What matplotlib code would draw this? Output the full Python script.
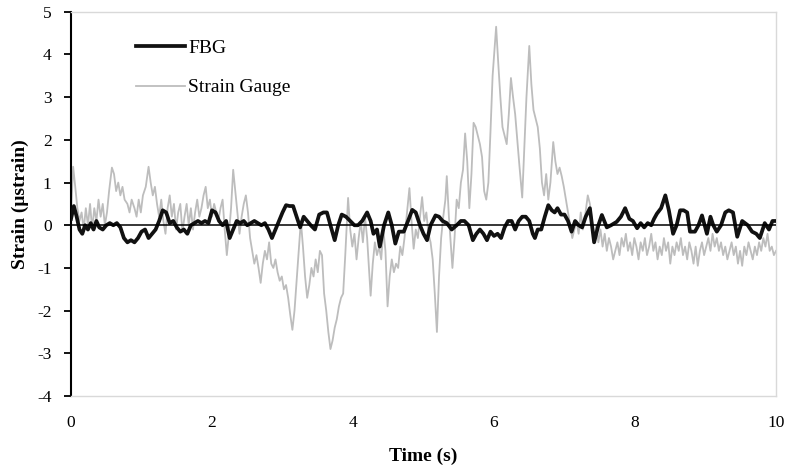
import matplotlib
matplotlib.use('Agg')
import matplotlib.pyplot as plt

# Strain gauge (grey) and FBG (black) traces.

sg_t = [0.00, 0.03, 0.06, 0.09, 0.12, 0.15, 0.18, 0.21, 0.24, 0.27, 0.30, 0.33, 0.36, 0.39,
        0.42, 0.45, 0.48, 0.51, 0.54, 0.58, 0.61, 0.64, 0.67, 0.70, 0.73, 0.76, 0.80, 0.83,
        0.86, 0.90, 0.93, 0.96, 0.99, 1.02, 1.06, 1.10, 1.13, 1.16, 1.19, 1.22, 1.25, 1.28,
        1.31, 1.34, 1.37, 1.40, 1.43, 1.46, 1.49, 1.52, 1.55, 1.58, 1.61, 1.64, 1.67, 1.70,
        1.73, 1.76, 1.79, 1.82, 1.85, 1.88, 1.91, 1.94, 1.97, 2.00, 2.03, 2.06, 2.09, 2.12,
        2.15, 2.18, 2.21, 2.24, 2.27, 2.30, 2.33, 2.36, 2.39, 2.42, 2.45, 2.48, 2.51, 2.54,
        2.57, 2.60, 2.63, 2.66, 2.69, 2.72, 2.75, 2.78, 2.81, 2.84, 2.87, 2.90, 2.93, 2.96,
        2.99, 3.02, 3.05, 3.08, 3.11, 3.14, 3.17, 3.20, 3.23, 3.26, 3.29, 3.32, 3.35, 3.38,
        3.41, 3.44, 3.47, 3.50, 3.53, 3.56, 3.59, 3.62, 3.65, 3.68, 3.71, 3.74, 3.77, 3.80,
        3.83, 3.86, 3.89, 3.93, 3.96, 3.99, 4.02, 4.05, 4.08, 4.11, 4.14, 4.17, 4.20, 4.23,
        4.25, 4.28, 4.31, 4.34, 4.37, 4.40, 4.43, 4.46, 4.49, 4.52, 4.55, 4.58, 4.61, 4.64,
        4.67, 4.70, 4.73, 4.76, 4.80, 4.83, 4.86, 4.89, 4.92, 4.95, 4.98, 5.01, 5.04, 5.07,
        5.10, 5.13, 5.16, 5.19, 5.22, 5.25, 5.28, 5.31, 5.33, 5.36, 5.39, 5.41, 5.44, 5.47,
        5.50, 5.53, 5.56, 5.59, 5.62, 5.65, 5.68, 5.71, 5.74, 5.77, 5.80, 5.83, 5.86, 5.89,
        5.92, 5.95, 5.98, 6.03, 6.06, 6.09, 6.12, 6.15, 6.18, 6.21, 6.24, 6.27, 6.30, 6.33,
        6.36, 6.40, 6.43, 6.46, 6.50, 6.53, 6.56, 6.59, 6.62, 6.65, 6.68, 6.71, 6.74, 6.77,
        6.80, 6.84, 6.87, 6.90, 6.93, 6.96, 6.99, 7.02, 7.05, 7.08, 7.11, 7.14, 7.17, 7.20,
        7.23, 7.26, 7.29, 7.33, 7.36, 7.39, 7.42, 7.45, 7.48, 7.51, 7.54, 7.57, 7.60, 7.63,
        7.66, 7.69, 7.72, 7.75, 7.78, 7.81, 7.84, 7.87, 7.90, 7.93, 7.96, 7.99, 8.02, 8.05,
        8.08, 8.11, 8.14, 8.17, 8.20, 8.23, 8.26, 8.29, 8.32, 8.35, 8.38, 8.41, 8.44, 8.47,
        8.50, 8.53, 8.56, 8.59, 8.62, 8.65, 8.68, 8.71, 8.74, 8.77, 8.80, 8.83, 8.86, 8.89,
        8.92, 8.95, 8.98, 9.01, 9.04, 9.07, 9.10, 9.13, 9.16, 9.19, 9.22, 9.25, 9.28, 9.31,
        9.34, 9.37, 9.40, 9.43, 9.46, 9.49, 9.52, 9.55, 9.58, 9.61, 9.64, 9.67, 9.70, 9.73,
        9.76, 9.79, 9.82, 9.85, 9.88, 9.91, 9.94, 9.97, 10.00]
sg_v = [0.3, 1.37, 0.9, 0.4, 0.1, 0.3, -0.1, 0.4, 0.0, 0.5, -0.1, 0.4, 0.1, 0.6,
        0.2, 0.5, 0.0, 0.3, 0.8, 1.35, 1.2, 0.8, 1.0, 0.7, 0.9, 0.6, 0.5, 0.3,
        0.6, 0.4, 0.2, 0.6, 0.3, 0.7, 0.9, 1.37, 1.0, 0.7, 0.9, 0.5, 0.2, 0.6,
        0.1, -0.2, 0.4, 0.7, 0.2, 0.5, -0.1, 0.3, 0.5, -0.15, 0.2, 0.5, 0.0, 0.4,
        -0.1, 0.3, 0.6, 0.2, 0.4, 0.7, 0.9, 0.4, 0.6, 0.2, 0.5, 0.3, 0.1, 0.4,
        0.6, -0.1, -0.7, -0.2, 0.4, 1.3, 0.8, 0.3, -0.2, 0.2, 0.5, 0.7, 0.3, -0.3,
        -0.6, -0.9, -0.7, -1.0, -1.35, -0.9, -0.6, -0.8, -0.4, -0.9, -1.0, -0.8, -1.1, -1.3,
        -1.2, -1.5, -1.4, -1.7, -2.1, -2.45, -2.0, -1.3, -0.6, 0.1, -0.5, -1.2, -1.7, -1.4,
        -1.0, -1.2, -0.8, -1.1, -0.6, -0.7, -1.6, -2.0, -2.5, -2.9, -2.7, -2.4, -2.2, -1.9,
        -1.7, -1.6, -0.7, 0.64, -0.1, -0.5, -0.2, -0.8, -0.3, 0.1, -0.4, 0.2, -0.3, -1.1,
        -1.65, -0.9, -0.4, -0.7, -0.5, -0.8, -0.1, -0.6, -1.9, -1.2, -0.8, -1.1, -0.9, -1.0,
        -0.5, -0.7, -0.3, 0.2, 0.87, 0.1, -0.55, -0.1, -0.3, 0.2, 0.66, 0.1, 0.3, -0.2,
        -0.4, -0.8, -1.6, -2.5, -1.2, -0.3, 0.2, 0.6, 1.15, 0.2, -0.5, -1.0, -0.3, 0.6,
        0.4, 1.0, 1.3, 2.15, 1.5, 0.4, 1.2, 2.4, 2.3, 2.1, 1.9, 1.6, 0.8, 0.6,
        1.0, 2.2, 3.5, 4.65, 3.8, 3.0, 2.3, 2.1, 1.9, 2.6, 3.45, 3.0, 2.6, 2.0,
        1.4, 0.65, 1.8, 3.0, 4.2, 3.3, 2.7, 2.5, 2.3, 1.8, 1.0, 0.7, 1.2, 0.6,
        1.0, 1.95, 1.5, 1.2, 1.35, 1.15, 0.9, 0.6, 0.3, 0.0, -0.3, -0.1, 0.1, -0.2,
        0.3, -0.1, 0.2, 0.7, 0.5, 0.1, -0.3, 0.0, -0.4, -0.1, -0.5, -0.2, -0.6, -0.3,
        -0.5, -0.8, -0.6, -0.4, -0.7, -0.3, -0.5, -0.2, -0.6, -0.4, -0.7, -0.3, -0.5, -0.8,
        -0.4, -0.6, -0.3, -0.7, -0.5, -0.2, -0.6, -0.4, -0.8, -0.5, -0.7, -0.3, -0.6, -0.4,
        -0.9, -0.5, -0.7, -0.4, -0.6, -0.3, -0.7, -0.5, -0.8, -0.4, -0.6, -0.9, -0.5, -0.95,
        -0.6, -0.4, -0.7, -0.5, -0.3, -0.6, -0.2, -0.5, -0.3, -0.6, -0.4, -0.7, -0.5, -0.8,
        -0.6, -0.4, -0.7, -0.5, -0.9, -0.6, -0.95, -0.5, -0.7, -0.4, -0.6, -0.8, -0.5, -0.7,
        -0.4, -0.6, -0.3, -0.5, -0.2, -0.6, -0.5, -0.7, -0.6]

fbg_t = [0.00, 0.04, 0.08, 0.12, 0.16, 0.20, 0.24, 0.28, 0.32, 0.36, 0.40, 0.45, 0.50, 0.55,
         0.60, 0.65, 0.70, 0.75, 0.80, 0.85, 0.90, 0.95, 1.00, 1.05, 1.10, 1.15, 1.20, 1.25,
         1.30, 1.35, 1.40, 1.45, 1.50, 1.55, 1.60, 1.65, 1.70, 1.75, 1.80, 1.85, 1.90, 1.95,
         2.00, 2.05, 2.10, 2.15, 2.20, 2.25, 2.30, 2.35, 2.40, 2.45, 2.50, 2.55, 2.60, 2.65,
         2.70, 2.75, 2.80, 2.85, 2.90, 2.95, 3.00, 3.05, 3.10, 3.15, 3.20, 3.25, 3.30, 3.35,
         3.40, 3.46, 3.52, 3.58, 3.63, 3.68, 3.74, 3.79, 3.84, 3.90, 3.96, 4.02, 4.07, 4.13,
         4.20, 4.25, 4.29, 4.34, 4.38, 4.44, 4.50, 4.55, 4.60, 4.65, 4.72, 4.78, 4.84, 4.89,
         4.95, 5.00, 5.05, 5.10, 5.17, 5.22, 5.27, 5.33, 5.40, 5.47, 5.53, 5.58, 5.64, 5.70,
         5.75, 5.80, 5.85, 5.90, 5.95, 6.00, 6.05, 6.10, 6.15, 6.20, 6.25, 6.30, 6.35, 6.40,
         6.45, 6.50, 6.55, 6.58, 6.62, 6.67, 6.72, 6.77, 6.82, 6.86, 6.90, 6.95, 7.00, 7.05,
         7.10, 7.15, 7.20, 7.25, 7.30, 7.36, 7.42, 7.48, 7.53, 7.60, 7.66, 7.74, 7.80, 7.86,
         7.92, 7.97, 8.03, 8.08, 8.13, 8.18, 8.23, 8.27, 8.31, 8.37, 8.43, 8.48, 8.54, 8.59,
         8.64, 8.69, 8.74, 8.78, 8.85, 8.90, 8.95, 9.02, 9.07, 9.11, 9.16, 9.22, 9.28, 9.33,
         9.39, 9.45, 9.52, 9.60, 9.66, 9.72, 9.77, 9.84, 9.90, 9.95, 10.00]
fbg_v = [0.15, 0.45, 0.2, -0.1, -0.2, 0.0, -0.1, 0.05, -0.1, 0.1, -0.05, -0.1, 0.0, 0.05,
         0.0, 0.05, -0.05, -0.3, -0.4, -0.35, -0.4, -0.3, -0.15, -0.1, -0.3, -0.2, -0.1, 0.1,
         0.35, 0.3, 0.05, 0.1, -0.05, -0.15, -0.1, -0.2, 0.0, 0.05, 0.1, 0.05, 0.1, 0.05,
         0.35, 0.3, 0.1, 0.0, 0.1, -0.3, -0.1, 0.1, 0.05, 0.1, 0.0, 0.05, 0.1, 0.05,
         0.0, 0.05, -0.1, -0.3, -0.1, 0.1, 0.3, 0.47, 0.45, 0.45, 0.2, -0.05, 0.2, 0.1,
         0.0, -0.1, 0.25, 0.3, 0.3, 0.0, -0.35, 0.0, 0.25, 0.2, 0.1, 0.0, 0.0, 0.1,
         0.3, 0.1, -0.2, -0.1, -0.5, 0.0, 0.3, 0.0, -0.43, -0.15, -0.15, 0.1, 0.36, 0.3,
         0.0, -0.2, -0.35, 0.0, 0.23, 0.2, 0.1, 0.05, -0.1, 0.0, 0.1, 0.1, 0.0, -0.35,
         -0.2, -0.1, -0.2, -0.35, -0.15, -0.25, -0.2, -0.3, -0.05, 0.1, 0.1, -0.1, 0.1, 0.2,
         0.2, 0.1, -0.2, -0.3, -0.1, -0.1, 0.2, 0.47, 0.35, 0.3, 0.4, 0.25, 0.25, 0.1,
         -0.15, 0.1, 0.0, -0.05, 0.2, 0.4, -0.4, 0.0, 0.24, -0.05, 0.0, 0.08, 0.2, 0.4,
         0.15, 0.1, -0.07, 0.05, -0.05, 0.05, 0.0, 0.15, 0.27, 0.4, 0.7, 0.35, -0.2, 0.0,
         0.35, 0.35, 0.3, -0.15, -0.15, 0.0, 0.23, -0.2, 0.2, 0.0, -0.15, 0.0, 0.3, 0.35,
         0.3, -0.27, 0.1, 0.0, -0.15, -0.2, -0.3, 0.05, -0.1, 0.1, 0.1]

y_ticks = [-4, -3, -2, -1, 0, 1, 2, 3, 4, 5]
x_ticks = [0, 2, 4, 6, 8, 10]

plt.rcParams['font.family'] = ['Liberation Serif', 'DejaVu Serif']
plt.rcParams['axes.unicode_minus'] = False

fig = plt.figure(figsize=(7.9, 4.72), dpi=100)
ax = fig.add_axes([0.0899, 0.161, 0.8924, 0.814])

ax.plot(sg_t, sg_v, color='#bdbdbd', linewidth=1.3, label='Strain Gauge', zorder=2)
ax.plot(fbg_t, fbg_v, color='#111111', linewidth=2.7, label='FBG', zorder=3,
        solid_joinstyle='round')
ax.axhline(0, color='black', linewidth=1.1, zorder=4)

ax.set_xlim(0, 10)
ax.set_ylim(-4, 5)
ax.set_xticks(x_ticks)
ax.set_yticks(y_ticks)
ax.tick_params(axis='x', length=0, labelsize=12.5, pad=14)
ax.tick_params(axis='y', direction='out', length=5, width=1.3, labelsize=12.5, pad=9)

for side in ['top', 'right', 'bottom']:
    ax.spines[side].set_color('#d9d9d9')
    ax.spines[side].set_linewidth(1.0)
ax.spines['left'].set_color('black')
ax.spines['left'].set_linewidth(1.5)

ax.set_xlabel('Time (s)', fontsize=14, fontweight='bold', labelpad=12)
ax.set_ylabel('Strain (\u03bcstrain)', fontsize=14, fontweight='bold', labelpad=6)

handles, labels = ax.get_legend_handles_labels()
ax.legend(handles[::-1], labels[::-1], loc='upper left', bbox_to_anchor=(0.068, 0.975),
          frameon=False, fontsize=14, handlelength=2.5, handletextpad=0.15,
          labelspacing=1.15)

plt.savefig('out.png', dpi=100)
